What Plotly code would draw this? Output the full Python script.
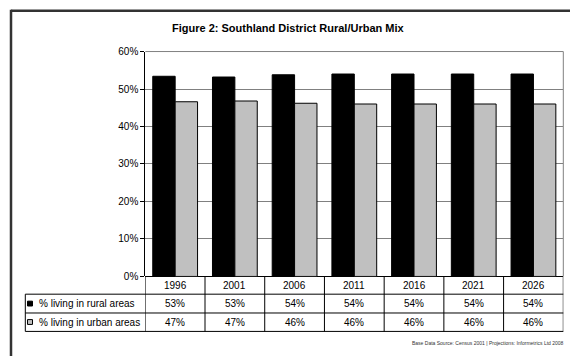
import plotly.graph_objects as go

# Southland District population split, census years and projections
years = ["1996", "2001", "2006", "2011", "2016", "2021", "2026"]
rural_pct = [53.4, 53.2, 53.8, 54.0, 54.0, 54.0, 54.0]
urban_pct = [46.6, 46.8, 46.2, 46.0, 46.0, 46.0, 46.0]
series_names = ["% living in rural areas", "% living in urban areas"]
y_ticks = [0, 10, 20, 30, 40, 50, 60]

W, H = 570, 360
FONT = "Liberation Sans, Arial, sans-serif"

# pixel layout helpers (paper coords)
def px(x):
    return x / W

def py(y):
    return 1 - y / H

plot_l, plot_r = 145.3, 563.3
plot_t, plot_b = 48.0, 280.0
row_years_b = 298.3
row_rural_b = 317.7
row_urban_b = 336.7
legend_l = 25.3

fig = go.Figure()
fig.add_trace(go.Bar(x=years, y=rural_pct, name=series_names[0],
                     marker=dict(color="#000000", line=dict(color="#000000", width=1))))
fig.add_trace(go.Bar(x=years, y=urban_pct, name=series_names[1],
                     marker=dict(color="#C0C0C0", line=dict(color="#000000", width=1))))

shapes = []
annotations = []

# outer chart frame (top and left edges)
shapes.append(dict(type="line", xref="paper", yref="paper", x0=px(11), x1=px(572),
                   y0=py(6), y1=py(6), line=dict(color="#333333", width=2.5)))
shapes.append(dict(type="line", xref="paper", yref="paper", x0=px(11), x1=px(11),
                   y0=py(5), y1=py(362), line=dict(color="#333333", width=2.5)))

# plot area border (top and right)
shapes.append(dict(type="line", xref="paper", yref="paper", x0=px(plot_l), x1=px(plot_r),
                   y0=py(plot_t), y1=py(plot_t), line=dict(color="#808080", width=1)))
shapes.append(dict(type="line", xref="paper", yref="paper", x0=px(plot_r), x1=px(plot_r),
                   y0=py(plot_t), y1=py(plot_b), line=dict(color="#808080", width=1)))

# data table grid
tbl = dict(color="#000000", width=1)
for yb in (row_years_b, row_rural_b, row_urban_b):
    shapes.append(dict(type="line", xref="paper", yref="paper", x0=px(legend_l), x1=px(plot_r),
                       y0=py(yb), y1=py(yb), line=tbl))
shapes.append(dict(type="line", xref="paper", yref="paper", x0=px(legend_l), x1=px(legend_l),
                   y0=py(row_years_b), y1=py(row_urban_b), line=tbl))
for i in range(len(years) + 1):
    shapes.append(dict(type="line", xref="x", yref="paper", x0=i - 0.5, x1=i - 0.5,
                       y0=py(plot_b), y1=py(row_urban_b), line=tbl))

# legend keys in the table
for (yc, col) in ((308.0, "#000000"), (327.0, "#C0C0C0")):
    shapes.append(dict(type="rect", xref="paper", yref="paper", x0=px(27.5), x1=px(32.5),
                       y0=py(yc - 2.5), y1=py(yc + 2.5), fillcolor=col,
                       line=dict(color="#000000", width=1)))

tfont = dict(family=FONT, size=10, color="#000000")
rows_y = [(plot_b + row_years_b) / 2, (row_years_b + row_rural_b) / 2, (row_rural_b + row_urban_b) / 2]
for i, yr in enumerate(years):
    cells = [yr, f"{round(rural_pct[i]):.0f}%", f"{round(urban_pct[i]):.0f}%"]
    for txt, yc in zip(cells, rows_y):
        annotations.append(dict(x=i, y=py(yc), xref="x", yref="paper", text=txt,
                                showarrow=False, font=tfont, xanchor="center",
                                yanchor="middle"))
for name, yc in zip(series_names, rows_y[1:]):
    annotations.append(dict(x=px(36.5), y=py(yc), xref="paper", yref="paper", text=name,
                            showarrow=False, font=tfont, xanchor="left", yanchor="middle"))

# title and source note
annotations.append(dict(x=px(288), y=py(24), xref="paper", yref="paper",
                        text="<b>Figure 2: Southland District Rural/Urban Mix</b>",
                        showarrow=False, font=dict(family=FONT, size=11, color="#000000"),
                        xanchor="center", yanchor="middle"))
annotations.append(dict(x=px(566), y=py(349), xref="paper", yref="paper",
                        text="Base Data Source: Census 2001 | Projections: Informetrics Ltd 2008",
                        showarrow=False, font=dict(family=FONT, size=5, color="#333333"),
                        xanchor="right", yanchor="middle"))

fig.update_layout(
    width=W, height=H,
    margin=dict(l=0, r=0, t=0, b=0),
    paper_bgcolor="#FFFFFF", plot_bgcolor="#FFFFFF",
    showlegend=False,
    barmode="group", bargap=0.25, bargroupgap=0,
    xaxis=dict(domain=[px(plot_l), px(plot_r)], type="category", range=[-0.5, 6.5],
               showticklabels=False, showgrid=False, zeroline=False,
               showline=False, ticks=""),
    yaxis=dict(domain=[py(plot_b), py(plot_t)], range=[0, 60], tickvals=y_ticks,
               ticktext=[f"{v}%" for v in y_ticks],
               showgrid=True, gridcolor="#808080", gridwidth=1,
               zeroline=True, zerolinecolor="#000000", zerolinewidth=1,
               showline=True, linecolor="#000000", linewidth=1,
               ticks="outside", ticklen=4, tickcolor="#000000", tickwidth=1,
               tickfont=dict(family=FONT, size=10, color="#000000")),
    shapes=shapes, annotations=annotations,
)

fig.write_html("out.html")
